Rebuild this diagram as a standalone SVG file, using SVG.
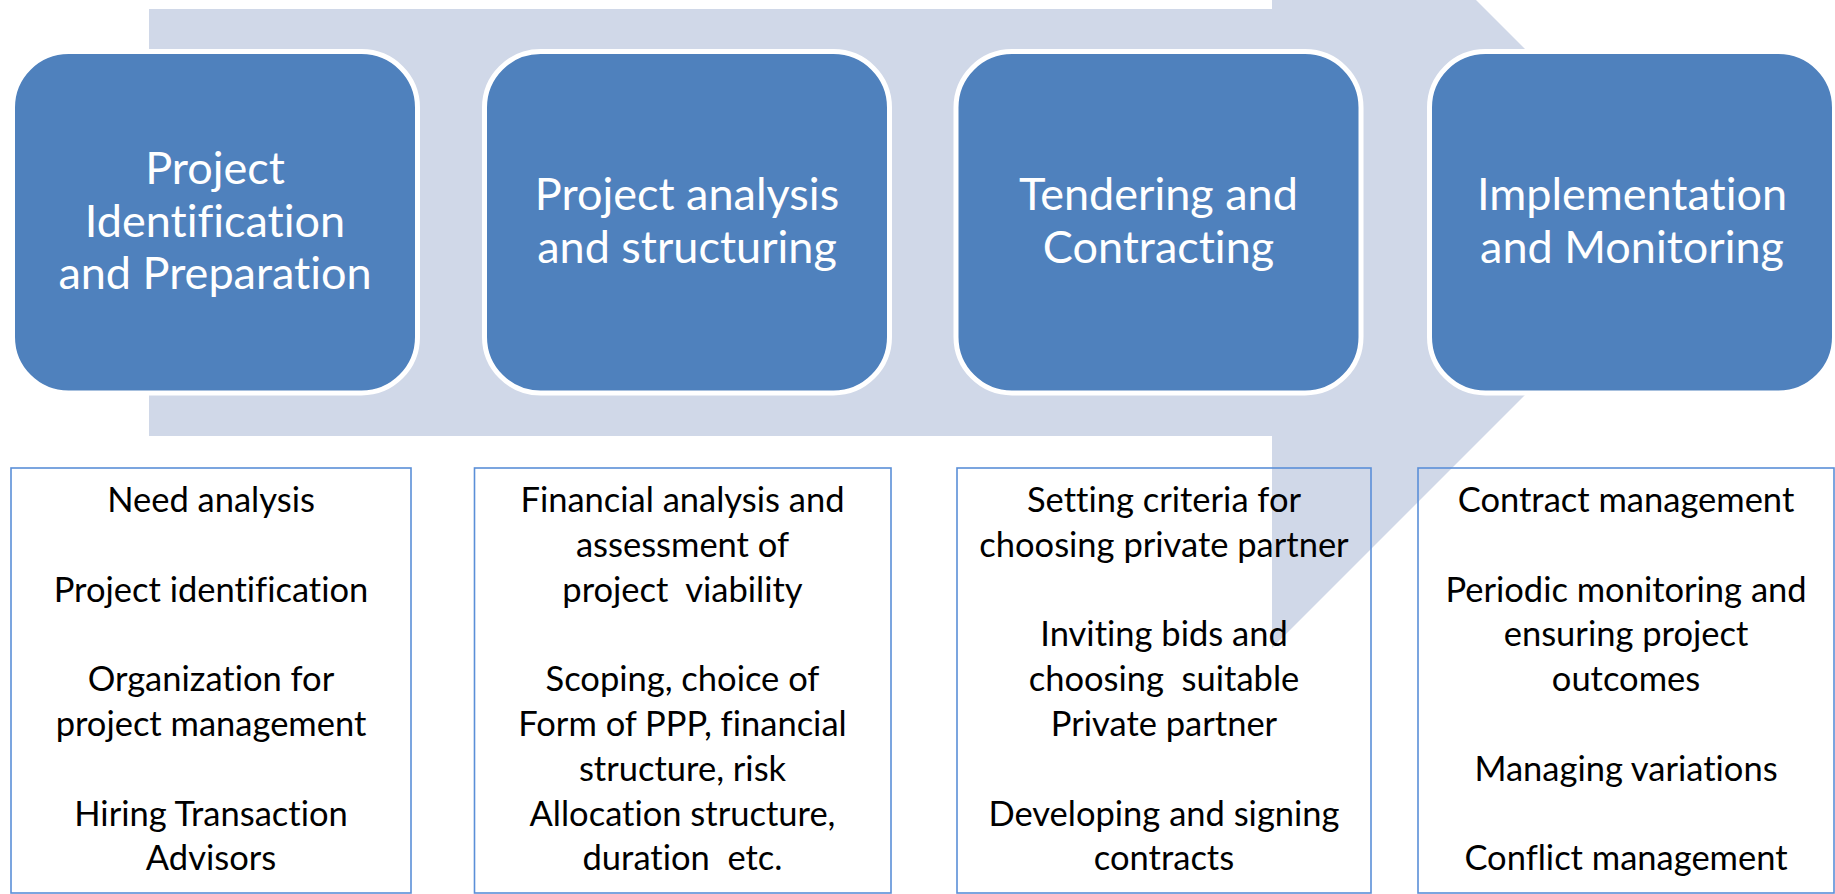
<svg xmlns="http://www.w3.org/2000/svg" width="1835" height="894" viewBox="0 0 1835 894">
<style>
text{font-variant-ligatures:none;font-feature-settings:"liga" 0,"clig" 0}
.node rect{fill:#4F81BD;stroke:#FFFFFF;stroke-width:5}
.node text{fill:#FFFFFF;font-family:Lato,"Liberation Sans",sans-serif;font-size:45px;text-anchor:middle}
.box rect{fill:#FFFFFF;fill-opacity:0;stroke:#5B8FD8;stroke-width:1.6}
.box text{fill:#000000;font-family:Lato,"Liberation Sans",sans-serif;font-size:34.5px;text-anchor:middle}
</style>
<rect width="1835" height="894" fill="#FFFFFF"/>
<g id="connectors">
<path id="flow-arrow" d="M149,9 L1272,9 L1272,-204 L1698,222 L1272,648 L1272,436 L149,436 Z" fill="#D0D8E8"/>
</g>
<g id="node1" class="node">
<rect x="12.5" y="51.5" width="405" height="341.5" rx="56" ry="56"/>
<text x="215" y="184">Project</text>
<text x="215" y="236.5">Identification</text>
<text x="215" y="289">and Preparation</text>
</g>
<g id="node2" class="node">
<rect x="484.5" y="51.5" width="405" height="341.5" rx="56" ry="56"/>
<text x="687" y="210">Project analysis</text>
<text x="687" y="262.5">and structuring</text>
</g>
<g id="node3" class="node">
<rect x="956" y="51.5" width="405" height="341.5" rx="56" ry="56"/>
<text x="1158.5" y="210">Tendering and</text>
<text x="1158.5" y="262.5">Contracting</text>
</g>
<g id="node4" class="node">
<rect x="1429.5" y="51.5" width="405" height="341.5" rx="56" ry="56"/>
<text x="1632" y="210">Implementation</text>
<text x="1632" y="262.5">and Monitoring</text>
</g>
<g id="box1" class="box">
<rect x="11" y="468" width="400" height="425"/>
<text x="211" y="512">Need analysis</text>
<text x="211" y="601.6">Project identification</text>
<text x="211" y="691.2">Organization for</text>
<text x="211" y="736">project management</text>
<text x="211" y="825.6">Hiring Transaction</text>
<text x="211" y="870.4">Advisors</text>
</g>
<g id="box2" class="box">
<rect x="474.5" y="468" width="416.5" height="425"/>
<text x="682.5" y="512">Financial analysis and</text>
<text x="682.5" y="556.8">assessment of</text>
<text x="682.5" y="601.6" xml:space="preserve">project  viability</text>
<text x="682.5" y="691.2">Scoping, choice of</text>
<text x="682.5" y="736">Form of PPP, financial</text>
<text x="682.5" y="780.8">structure, risk</text>
<text x="682.5" y="825.6">Allocation structure,</text>
<text x="682.5" y="870.4" xml:space="preserve">duration  etc.</text>
</g>
<g id="box3" class="box">
<rect x="957" y="468" width="414" height="425"/>
<text x="1164" y="512">Setting criteria for</text>
<text x="1164" y="556.8">choosing private partner</text>
<text x="1164" y="646.4">Inviting bids and</text>
<text x="1164" y="691.2" xml:space="preserve">choosing  suitable</text>
<text x="1164" y="736">Private partner</text>
<text x="1164" y="825.6">Developing and signing</text>
<text x="1164" y="870.4">contracts</text>
</g>
<g id="box4" class="box">
<rect x="1418" y="468" width="416" height="425"/>
<text x="1626" y="512">Contract management</text>
<text x="1626" y="601.6">Periodic monitoring and</text>
<text x="1626" y="646.4">ensuring project</text>
<text x="1626" y="691.2">outcomes</text>
<text x="1626" y="780.8">Managing variations</text>
<text x="1626" y="870.4">Conflict management</text>
</g>
</svg>
